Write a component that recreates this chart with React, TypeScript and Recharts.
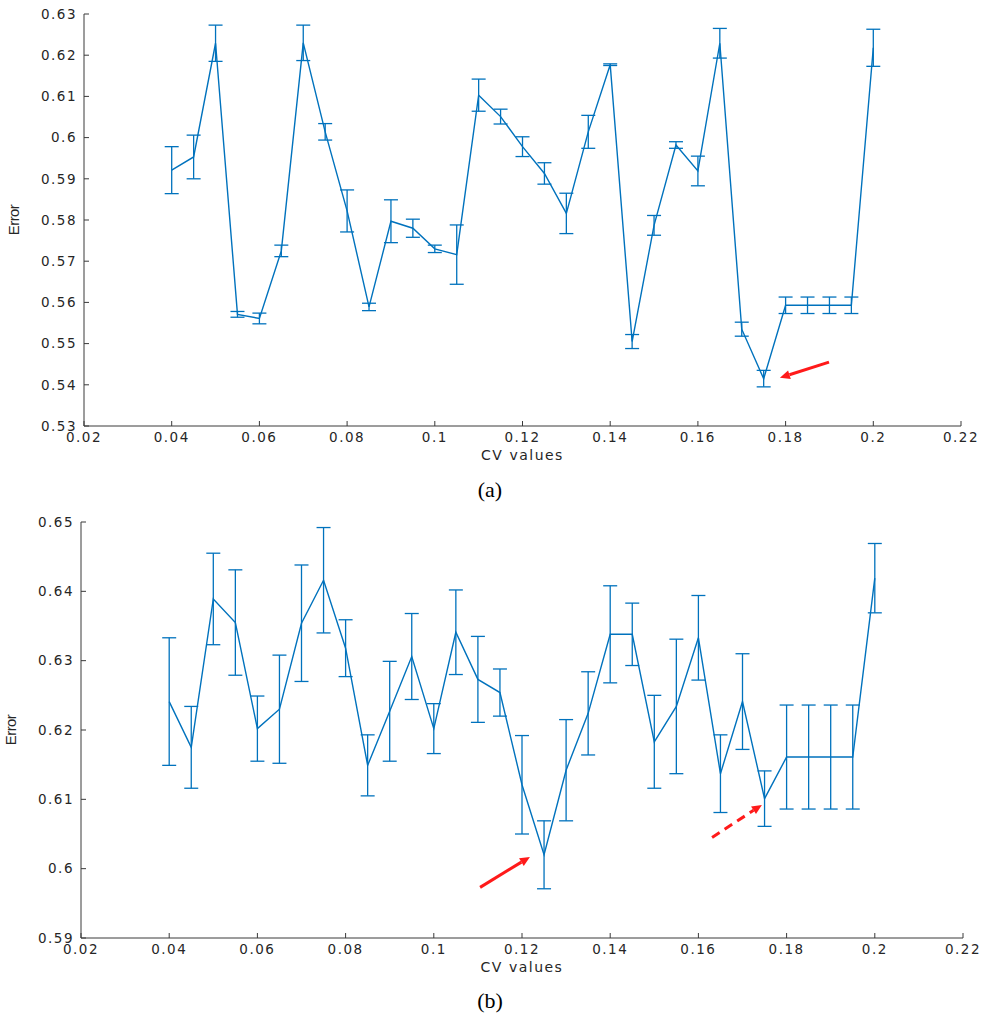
import React from "react";
import {
  LineChart,
  Line,
  XAxis,
  YAxis,
  ErrorBar,
  ReferenceLine,
} from "recharts";

// CV values shared by both panels
const cvValues = [
  0.04, 0.045, 0.05, 0.055, 0.06, 0.065, 0.07, 0.075, 0.08, 0.085, 0.09,
  0.095, 0.1, 0.105, 0.11, 0.115, 0.12, 0.125, 0.13, 0.135, 0.14, 0.145,
  0.15, 0.155, 0.16, 0.165, 0.17, 0.175, 0.18, 0.185, 0.19, 0.195, 0.2,
];

// panel (a)
const meanA = [
  0.5921, 0.5953, 0.6229, 0.5571, 0.5561, 0.5725, 0.623, 0.6014, 0.5822,
  0.5589, 0.5797, 0.578, 0.573, 0.5716, 0.6103, 0.6051, 0.5978, 0.5913,
  0.5816, 0.6014, 0.6177, 0.5505, 0.5787, 0.5982, 0.5919, 0.6229, 0.5535,
  0.5415, 0.5593, 0.5593, 0.5593, 0.5593, 0.6218,
];
const sdA = [
  0.0057, 0.0053, 0.0044, 0.0007, 0.0013, 0.0014, 0.0043, 0.002, 0.0051,
  0.0009, 0.0052, 0.0022, 0.0009, 0.0072, 0.0039, 0.0018, 0.0024, 0.0026,
  0.0049, 0.004, 0.0002, 0.0017, 0.0024, 0.0008, 0.0036, 0.0036, 0.0017,
  0.002, 0.002, 0.002, 0.002, 0.002, 0.0045,
];

// panel (b)
const meanB = [
  0.6241, 0.6175, 0.6389, 0.6355, 0.6202, 0.623, 0.6354, 0.6416, 0.6318,
  0.6149, 0.6227, 0.6306, 0.6202, 0.6341, 0.6273, 0.6254, 0.6121, 0.602,
  0.6142, 0.6224, 0.6338, 0.6338, 0.6183, 0.6234, 0.6333, 0.6137, 0.6241,
  0.6101, 0.6161, 0.6161, 0.6161, 0.6161, 0.6419,
];
const sdB = [
  0.0092, 0.0059, 0.0066, 0.0076, 0.0047, 0.0078, 0.0084, 0.0076, 0.0041,
  0.0044, 0.0072, 0.0062, 0.0036, 0.0061, 0.0062, 0.0034, 0.0071, 0.0049,
  0.0073, 0.006, 0.007, 0.0045, 0.0067, 0.0097, 0.0061, 0.0056, 0.0069,
  0.004, 0.0075, 0.0075, 0.0075, 0.0075, 0.005,
];

const xTicks = [0.02, 0.04, 0.06, 0.08, 0.1, 0.12, 0.14, 0.16, 0.18, 0.2, 0.22];
const yTicksA = [0.53, 0.54, 0.55, 0.56, 0.57, 0.58, 0.59, 0.6, 0.61, 0.62, 0.63];
const yTicksB = [0.59, 0.6, 0.61, 0.62, 0.63, 0.64, 0.65];

// red arrows: [x, y] in data units, tip at "to"
const arrowsA = [{ from: [0.1899, 0.5455], to: [0.1787, 0.5417], dashed: false }];
const arrowsB = [
  { from: [0.1105, 0.5973], to: [0.1218, 0.6017], dashed: false },
  { from: [0.1631, 0.6045], to: [0.1744, 0.6092], dashed: true },
];

const BLUE = "#0072BD";
const AXIS = "#3a3a3a";
const tickFont = { fontFamily: "DejaVu Sans", fontSize: 13.5, fill: "#262626", letterSpacing: 1.5 };
const fmt = (v: number) => String(parseFloat(v.toFixed(3)));

const makeArrowShape = (dashed: boolean) => (props: any) => {
  const { x1, y1, x2, y2 } = props;
  const ang = Math.atan2(y2 - y1, x2 - x1);
  const len = 10;
  const hw = 4.5;
  const bx = x2 - len * Math.cos(ang);
  const by = y2 - len * Math.sin(ang);
  const px = -Math.sin(ang) * hw;
  const py = Math.cos(ang) * hw;
  return (
    <g>
      <line
        x1={x1}
        y1={y1}
        x2={bx}
        y2={by}
        stroke="#ff1a1a"
        strokeWidth={3}
        strokeDasharray={dashed ? "9 6" : undefined}
      />
      <polygon
        points={`${x2},${y2} ${bx + px},${by + py} ${bx - px},${by - py}`}
        fill="#ff1a1a"
      />
    </g>
  );
};

interface PanelProps {
  mean: number[];
  sd: number[];
  yTicks: number[];
  arrows: { from: number[]; to: number[]; dashed: boolean }[];
  height: number;
  margin: { top: number; right: number; bottom: number; left: number };
}

const Panel: React.FC<PanelProps> = ({ mean, sd, yTicks, arrows, height, margin }) => {
  const data = cvValues.map((cv, i) => ({ cv, mean: mean[i], sd: sd[i] }));
  const yDomain = [yTicks[0], yTicks[yTicks.length - 1]];
  return (
    <LineChart width={985} height={height} data={data} margin={margin}>
      <XAxis
        dataKey="cv"
        type="number"
        domain={[0.02, 0.22]}
        ticks={xTicks}
        allowDataOverflow
        tickFormatter={fmt}
        height={44}
        tickSize={-5}
        tickMargin={11}
        stroke={AXIS}
        tick={tickFont}
        label={{
          value: "CV values",
          position: "insideBottom",
          offset: 10,
          style: { fontFamily: "DejaVu Sans", fontSize: 14, fill: "#262626", letterSpacing: 1.5 },
        }}
      />
      <XAxis
        xAxisId="top"
        orientation="top"
        dataKey="cv"
        type="number"
        domain={[0.02, 0.22]}
        ticks={xTicks}
        allowDataOverflow
        height={0}
        tickSize={-5}
        tickFormatter={() => ""}
        stroke={AXIS}
      />
      <YAxis
        type="number"
        domain={yDomain}
        ticks={yTicks}
        allowDataOverflow
        tickFormatter={fmt}
        width={76}
        tickSize={-5}
        tickMargin={12}
        stroke={AXIS}
        tick={tickFont}
        label={{
          value: "Error",
          angle: -90,
          position: "insideLeft",
          offset: 6,
          style: { fontFamily: "Liberation Sans", fontSize: 15, fill: "#262626", textAnchor: "middle", letterSpacing: -0.6 },
        }}
      />
      <YAxis
        yAxisId="right"
        orientation="right"
        type="number"
        domain={yDomain}
        ticks={yTicks}
        allowDataOverflow
        width={0}
        tickSize={-5}
        tickFormatter={() => ""}
        stroke={AXIS}
      />
      <Line
        dataKey="mean"
        stroke={BLUE}
        strokeWidth={1.4}
        dot={false}
        isAnimationActive={false}
      >
        <ErrorBar dataKey="sd" direction="y" width={7} stroke={BLUE} strokeWidth={1.3} />
      </Line>
      {arrows.map((a, i) => (
        <ReferenceLine
          key={i}
          segment={[
            { x: a.from[0], y: a.from[1] },
            { x: a.to[0], y: a.to[1] },
          ]}
          ifOverflow="visible"
          shape={makeArrowShape(a.dashed)}
        />
      ))}
    </LineChart>
  );
};

const captionStyle: React.CSSProperties = {
  position: "absolute",
  left: 0,
  width: 980,
  textAlign: "center",
  fontFamily: "Liberation Serif",
  fontSize: 22,
};

export default function App() {
  return (
    <div
      style={{
        position: "absolute",
        left: 0,
        top: 0,
        width: 985,
        height: 1023,
        background: "#fff",
      }}
    >
      <div style={{ position: "absolute", left: 0, top: 0 }}>
        <Panel
          mean={meanA}
          sd={sdA}
          yTicks={yTicksA}
          arrows={arrowsA}
          height={470}
          margin={{ top: 14, right: 24, bottom: 0, left: 8 }}
        />
      </div>
      <div style={{ ...captionStyle, top: 477 }}>(a)</div>
      <div style={{ position: "absolute", left: 0, top: 508 }}>
        <Panel
          mean={meanB}
          sd={sdB}
          yTicks={yTicksB}
          arrows={arrowsB}
          height={474}
          margin={{ top: 14, right: 22, bottom: 0, left: 5 }}
        />
      </div>
      <div style={{ ...captionStyle, top: 988 }}>(b)</div>
    </div>
  );
}
